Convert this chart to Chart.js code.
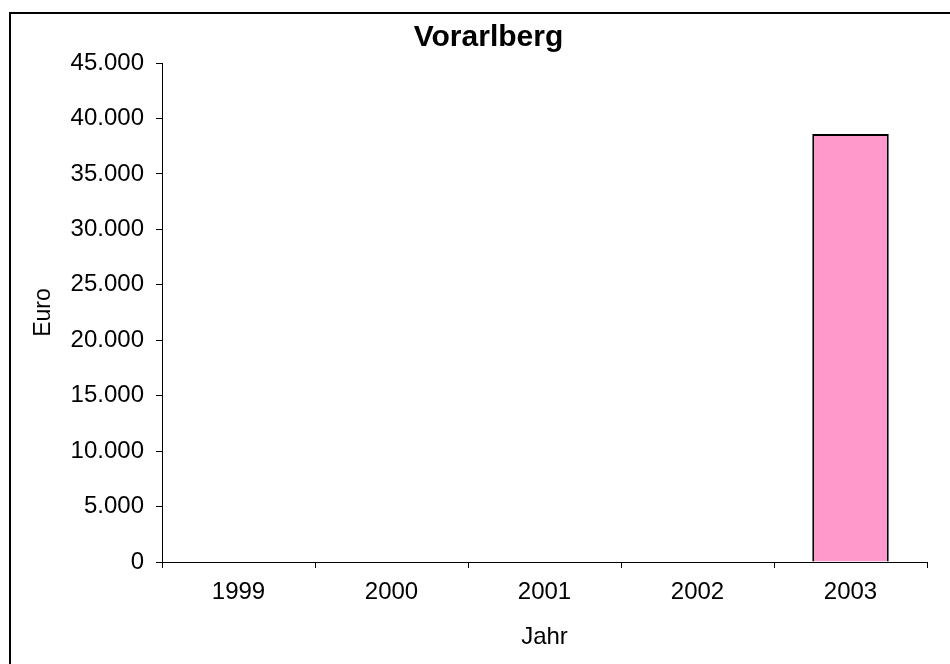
<!DOCTYPE html>
<html>
<head>
<meta charset="utf-8">
<script src="https://cdn.jsdelivr.net/npm/chart.js@4/dist/chart.umd.min.js"></script>
<style>
  html, body { margin: 0; padding: 0; background: #fff; overflow: hidden; }
  #frame { position: absolute; left: 9px; top: 12px; width: 960px; height: 680px; border: 2px solid #000; box-sizing: border-box; }
  #wrap { position: absolute; left: 10px; top: 13px; width: 940px; height: 651px; }
</style>
</head>
<body>
<div id="frame"></div>
<div id="wrap"><canvas id="chart"></canvas></div>
<script>
const years = ['1999', '2000', '2001', '2002', '2003'];
const euro = [0, 0, 0, 0, 38600];
const yMax = 45000;
const yStep = 5000;

const fmt = v => Math.round(v).toString().replace(/\B(?=(\d{3})+(?!\d))/g, '.');

// nudge the title to sit a bit right of the canvas centre, like the original
const titleShift = {
  id: 'titleShift',
  afterLayout(c) { if (c.titleBlock) c.titleBlock.left += 40; }
};

(() => {
  const el = document.getElementById('chart');
  Chart.defaults.font.family = '"Liberation Sans", Arial, sans-serif';
  Chart.defaults.color = '#000';

  new Chart(el, {
    type: 'bar',
    data: {
      labels: years,
      datasets: [
        { label: 'Euro', data: euro, backgroundColor: '#FF99CC', borderColor: '#000',
          borderWidth: 2, barPercentage: 0.5, categoryPercentage: 1 }
      ]
    },
    plugins: [titleShift],
    options: {
      responsive: true,
      maintainAspectRatio: false,
      animation: false,
      layout: { padding: { top: 0, right: 23, bottom: 8, left: 0 } },
      plugins: {
        legend: { display: false },
        tooltip: { enabled: false },
        title: {
          display: true,
          text: 'Vorarlberg',
          font: { size: 30, weight: 'bold' },
          padding: { top: 7, bottom: 7 }
        }
      },
      scales: {
        x: {
          grid: { drawOnChartArea: false, color: '#000', tickLength: 6, offset: true },
          border: { color: '#000', width: 1 },
          ticks: { font: { size: 24 }, padding: 10 },
          title: { display: true, text: 'Jahr', font: { size: 24 }, padding: { top: 4 } },
          afterFit: s => { s.height = 94; }
        },
        y: {
          min: 0, max: yMax,
          grid: { drawOnChartArea: false, color: '#000', tickLength: 6 },
          border: { color: '#000', width: 1 },
          ticks: { stepSize: yStep, font: { size: 24 }, padding: 12, callback: v => fmt(v) },
          title: { display: true, text: 'Euro', font: { size: 23 }, padding: { top: 20, bottom: 0 } },
          afterFit: s => { s.width = 152; }
        }
      }
    }
  });
})();
</script>
</body>
</html>
